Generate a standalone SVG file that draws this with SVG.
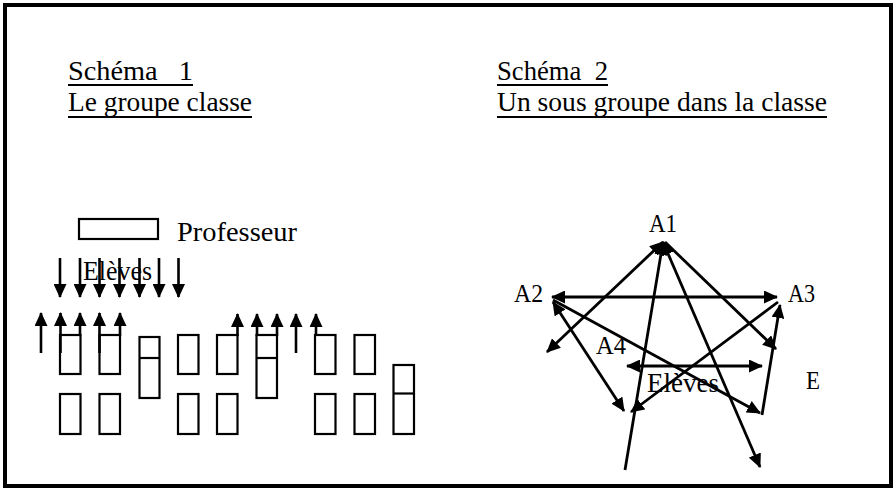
<svg xmlns="http://www.w3.org/2000/svg" width="894" height="488" viewBox="0 0 894 488">
<style>
.t{font-family:"Liberation Serif","Times New Roman",serif;fill:#000;white-space:pre}
.ti{font-size:27px}
.lb{font-size:25px}
.ul{stroke:#000;stroke-width:1.8}
.box{fill:none;stroke:#000;stroke-width:2.2}
.ar{stroke:#000;stroke-width:2.6;fill:none}
.cn{stroke:#000;stroke-width:2.8;fill:none}
</style>
<defs>
<marker id="ah" viewBox="0 0 14 13" refX="13" refY="6.5" markerWidth="14" markerHeight="13" markerUnits="userSpaceOnUse" orient="auto-start-reverse"><path d="M0,0 L14,6.5 L0,13 z" fill="#000"/></marker>
</defs>
<rect x="5" y="5" width="886" height="481" fill="#fff" stroke="#000" stroke-width="4"/>

<g id="titles">
<text class="t ti" x="68" y="80" textLength="125" lengthAdjust="spacingAndGlyphs" xml:space="preserve">Schéma   1</text>
<line class="ul" x1="68" y1="85" x2="193" y2="85"/>
<text class="t ti" x="68" y="111" textLength="184" lengthAdjust="spacingAndGlyphs">Le groupe classe</text>
<line class="ul" x1="68" y1="117" x2="252" y2="117"/>
<text class="t ti" x="497" y="80" textLength="111" lengthAdjust="spacingAndGlyphs" xml:space="preserve">Schéma  2</text>
<line class="ul" x1="497" y1="85" x2="608" y2="85"/>
<text class="t ti" x="497" y="111" textLength="330" lengthAdjust="spacingAndGlyphs">Un sous groupe dans la classe</text>
<line class="ul" x1="497" y1="117" x2="827" y2="117"/>
</g>

<g id="professeur">
<rect class="box" x="79" y="219" width="79" height="20"/>
<text class="t ti" x="177" y="241" textLength="120" lengthAdjust="spacingAndGlyphs">Professeur</text>
</g>
<g id="eleves-label-1">
<text class="t ti" x="83" y="280" textLength="69" lengthAdjust="spacingAndGlyphs">Elèves</text>
</g>

<g id="eleves-1">
<rect class="box" x="60" y="335" width="20.5" height="39"/>
<rect class="box" x="99.5" y="335" width="20.5" height="39"/>
<rect class="box" x="139.5" y="337" width="20" height="61"/>
<line class="box" x1="139.5" y1="358" x2="159.5" y2="358"/>
<rect class="box" x="178" y="335" width="20.5" height="39"/>
<rect class="box" x="217" y="335" width="20.5" height="39"/>
<rect class="box" x="256.5" y="335" width="20.5" height="63"/>
<line class="box" x1="256.5" y1="358" x2="277" y2="358"/>
<rect class="box" x="315" y="335" width="20.5" height="39"/>
<rect class="box" x="354.5" y="335" width="20.5" height="39"/>
<rect class="box" x="60" y="394" width="20.5" height="40"/>
<rect class="box" x="99.5" y="394" width="20.5" height="40"/>
<rect class="box" x="178" y="394" width="20.5" height="40"/>
<rect class="box" x="217" y="394" width="20.5" height="40"/>
<rect class="box" x="315" y="394" width="20.5" height="40"/>
<rect class="box" x="354.5" y="394" width="20.5" height="40"/>
<rect class="box" x="393.5" y="365" width="20.5" height="69"/>
<line class="box" x1="393.5" y1="393.5" x2="414" y2="393.5"/>
</g>

<g id="star-labels">
<text class="t lb" x="649" y="232" textLength="28" lengthAdjust="spacingAndGlyphs">A1</text>
<text class="t lb" x="514" y="302" textLength="29" lengthAdjust="spacingAndGlyphs">A2</text>
<text class="t lb" x="788" y="302" textLength="27" lengthAdjust="spacingAndGlyphs">A3</text>
<text class="t lb" x="596" y="354" textLength="30" lengthAdjust="spacingAndGlyphs">A4</text>
<text class="t ti" x="647" y="392" textLength="72" lengthAdjust="spacingAndGlyphs">Elèves</text>
<text class="t lb" x="806" y="389" textLength="14" lengthAdjust="spacingAndGlyphs">E</text>
</g>

<g id="connectors">
<g id="down-arrows">
<line class="ar" x1="60" y1="258" x2="60" y2="297" marker-end="url(#ah)"/>
<line class="ar" x1="80" y1="258" x2="80" y2="297" marker-end="url(#ah)"/>
<line class="ar" x1="99.5" y1="258" x2="99.5" y2="297" marker-end="url(#ah)"/>
<line class="ar" x1="119.5" y1="258" x2="119.5" y2="297" marker-end="url(#ah)"/>
<line class="ar" x1="139.5" y1="258" x2="139.5" y2="297" marker-end="url(#ah)"/>
<line class="ar" x1="159" y1="258" x2="159" y2="297" marker-end="url(#ah)"/>
<line class="ar" x1="178.5" y1="258" x2="178.5" y2="297" marker-end="url(#ah)"/>
</g>
<g id="up-arrows">
<line class="ar" x1="41" y1="353" x2="41" y2="313" marker-end="url(#ah)"/>
<line class="ar" x1="60.5" y1="353" x2="60.5" y2="313" marker-end="url(#ah)"/>
<line class="ar" x1="80" y1="336" x2="80" y2="313" marker-end="url(#ah)"/>
<line class="ar" x1="99.5" y1="353" x2="99.5" y2="313" marker-end="url(#ah)"/>
<line class="ar" x1="120" y1="336" x2="120" y2="313" marker-end="url(#ah)"/>
<line class="ar" x1="237.5" y1="336" x2="237.5" y2="314" marker-end="url(#ah)"/>
<line class="ar" x1="257" y1="336" x2="257" y2="314" marker-end="url(#ah)"/>
<line class="ar" x1="277" y1="336" x2="277" y2="314" marker-end="url(#ah)"/>
<line class="ar" x1="296" y1="353" x2="296" y2="314" marker-end="url(#ah)"/>
<line class="ar" x1="316" y1="336" x2="316" y2="314" marker-end="url(#ah)"/>
</g>
<g id="star">
<line class="cn" x1="663" y1="242" x2="547" y2="352" marker-start="url(#ah)" marker-end="url(#ah)"/>
<line class="cn" x1="625" y1="470" x2="663" y2="242" marker-end="url(#ah)"/>
<line class="cn" x1="663" y1="242" x2="760" y2="467" marker-start="url(#ah)" marker-end="url(#ah)"/>
<line class="cn" x1="665" y1="242" x2="776" y2="349" marker-end="url(#ah)"/>
<line class="cn" x1="552" y1="297" x2="777" y2="297" marker-start="url(#ah)" marker-end="url(#ah)"/>
<line class="cn" x1="553" y1="300" x2="760" y2="413" marker-end="url(#ah)"/>
<line class="cn" x1="624" y1="411" x2="553" y2="302" marker-start="url(#ah)" marker-end="url(#ah)"/>
<line class="cn" x1="778" y1="302" x2="631" y2="412" marker-end="url(#ah)"/>
<line class="cn" x1="762" y1="415" x2="780" y2="305" marker-end="url(#ah)"/>
<line class="cn" x1="627" y1="366" x2="762" y2="366" marker-start="url(#ah)" marker-end="url(#ah)"/>
</g>
</g>
</svg>
